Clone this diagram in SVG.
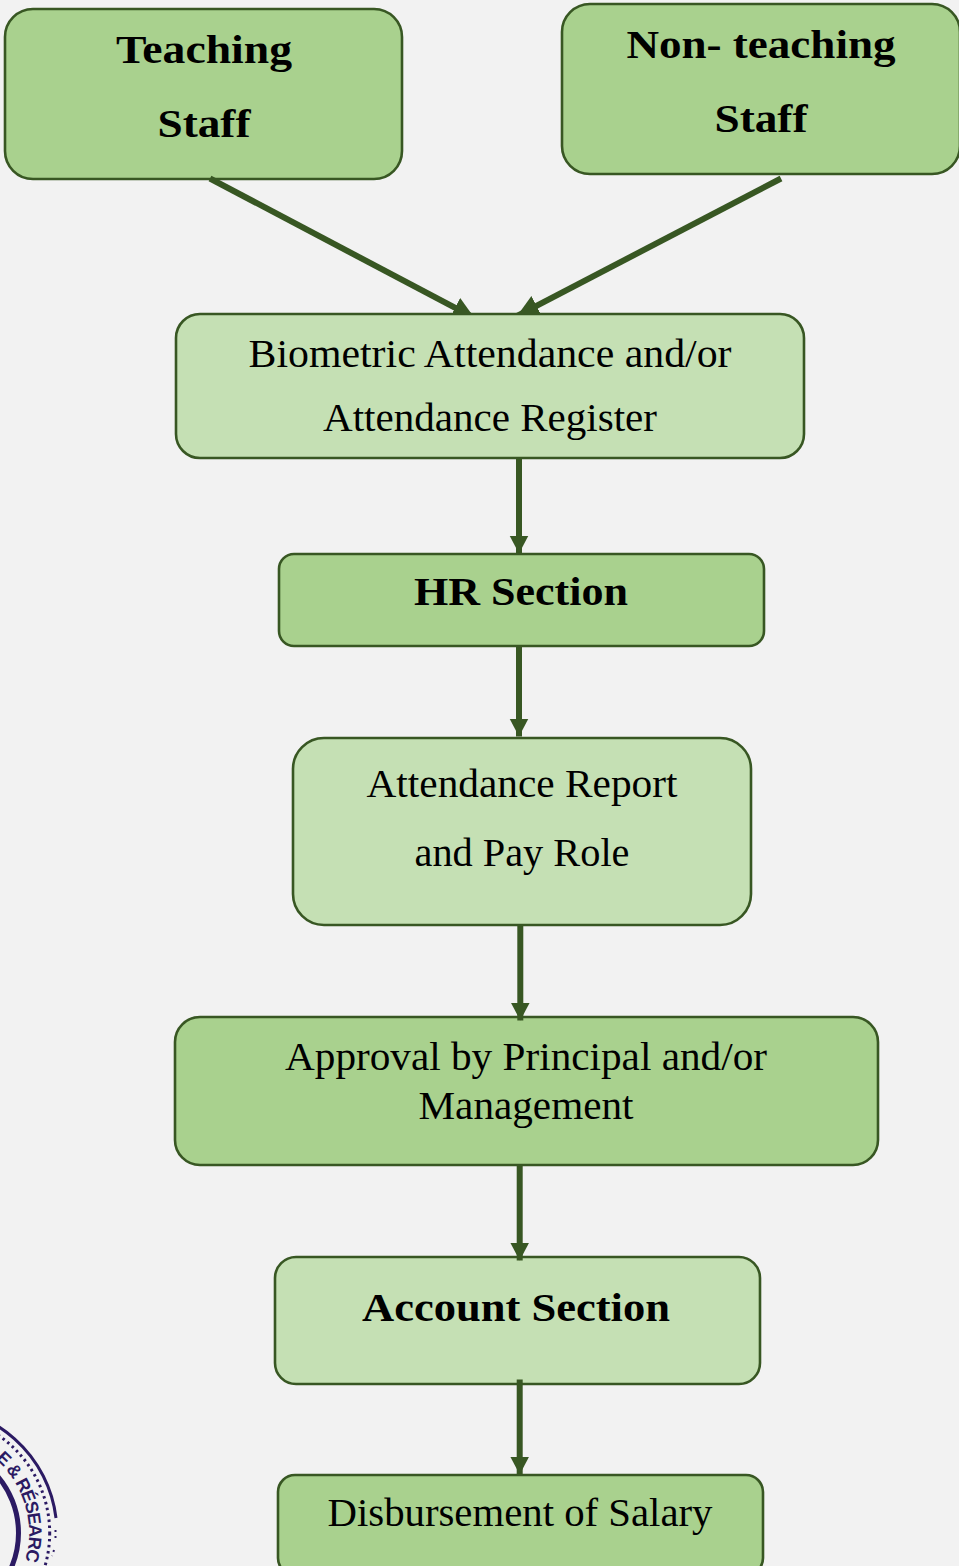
<svg xmlns="http://www.w3.org/2000/svg" width="959" height="1566" viewBox="0 0 959 1566">
<style>
.n{stroke:#385723;stroke-width:2.6}
.d{fill:#a9d18e}
.l{fill:#c5e0b4}
text{font-family:"Liberation Serif",Georgia,serif;fill:#000;text-anchor:middle}
.r{font-size:39px}
.b{font-size:39px;font-weight:bold}
.c{stroke:#385723;stroke-width:6;fill:none;marker-end:url(#a)}
.g{stroke:#385723;stroke-width:6;fill:none;marker-end:url(#h);clip-path:url(#top)}
.s{fill:none;stroke:#2b1a63}
</style>
<defs>
<marker id="a" markerUnits="userSpaceOnUse" markerWidth="20" markerHeight="20" refX="18" refY="9.500" orient="auto">
<path d="M0 0L18 9.500L0 19Z" fill="#385723"/>
</marker>
<marker id="h" markerUnits="userSpaceOnUse" markerWidth="24" markerHeight="24" refX="22" refY="11" orient="auto">
<path d="M0 0L22 11L0 22Z" fill="#385723"/>
</marker>
<clipPath id="top" clipPathUnits="userSpaceOnUse"><rect x="0" y="0" width="959" height="313"/></clipPath>
<path id="sp" d="M-69 1435A98 98 0 0 1 15.900 1582"/>
</defs>
<rect width="959" height="1566" fill="#f2f2f2"/>
<g id="stamp">
<path class="s" d="M-69 1407A126 126 0 0 1 56 1518" stroke-width="3"/>
<path class="s" d="M55.500 1530V1538M54 1550L52 1556" stroke-width="2" stroke-dasharray="2 4"/>
<circle class="s" cx="-69" cy="1533" r="118.700" stroke-width="3" stroke-dasharray="2.500 3.500"/>
<circle class="s" cx="-69" cy="1533" r="87.500" stroke-width="5"/>
<text style="font-family:'Liberation Sans',sans-serif;font-weight:bold;font-size:18px;fill:#2b1a63;text-anchor:start"><textPath href="#sp" startOffset="70" textLength="112">E &amp; RÉSEARC</textPath></text>
</g>
<g id="teaching"><rect class="n d" x="5" y="9" width="397" height="170" rx="28"/>
<text class="b" x="204" y="62.500" textLength="176" lengthAdjust="spacingAndGlyphs">Teaching</text>
<text class="b" x="204" y="137" textLength="93" lengthAdjust="spacingAndGlyphs">Staff</text></g>
<g id="nonteaching"><rect class="n d" x="562" y="4" width="398" height="170" rx="28"/>
<text class="b" x="761" y="57.500" textLength="269" lengthAdjust="spacingAndGlyphs">Non- teaching</text>
<text class="b" x="761" y="132" textLength="93" lengthAdjust="spacingAndGlyphs">Staff</text></g>
<g id="biometric"><rect class="n l" x="176" y="314" width="628" height="144" rx="24"/>
<text class="r" x="490" y="366.500" textLength="483" lengthAdjust="spacingAndGlyphs">Biometric Attendance and/or</text>
<text class="r" x="490" y="430.500" textLength="334" lengthAdjust="spacingAndGlyphs">Attendance Register</text></g>
<g id="hr"><rect class="n d" x="279" y="554" width="485" height="92" rx="15"/>
<text class="b" x="521" y="604.500" textLength="214" lengthAdjust="spacingAndGlyphs">HR Section</text></g>
<g id="report"><rect class="n l" x="293" y="738" width="458" height="187" rx="31"/>
<text class="r" x="522" y="796.500" textLength="311" lengthAdjust="spacingAndGlyphs">Attendance Report</text>
<text class="r" x="522" y="865.500" textLength="215" lengthAdjust="spacingAndGlyphs">and Pay Role</text></g>
<g id="approval"><rect class="n d" x="175" y="1017" width="703" height="148" rx="25"/>
<text class="r" x="526" y="1069.500" textLength="482" lengthAdjust="spacingAndGlyphs">Approval by Principal and/or</text>
<text class="r" x="526" y="1118.500" textLength="215" lengthAdjust="spacingAndGlyphs">Management</text></g>
<g id="account"><rect class="n l" x="275" y="1257" width="485" height="127" rx="21"/>
<text class="b" x="516" y="1320.500" textLength="308" lengthAdjust="spacingAndGlyphs">Account Section</text></g>
<g id="disbursement"><rect class="n d" x="278" y="1475" width="485" height="100" rx="17"/>
<text class="r" x="520" y="1525.500" textLength="385" lengthAdjust="spacingAndGlyphs">Disbursement of Salary</text></g>
<g id="connectors">
<path class="g" d="M210 178.500L474.500 318"/>
<path class="g" d="M781 178.500L517 316"/>
<line class="c" x1="519" y1="459" x2="519" y2="553.500"/>
<line class="c" x1="519" y1="646" x2="519" y2="736.500"/>
<line class="c" x1="520.300" y1="926" x2="520.300" y2="1020.500"/>
<line class="c" x1="519.700" y1="1166" x2="519.700" y2="1260.500"/>
<line class="c" x1="519.700" y1="1379.500" x2="519.700" y2="1474.500"/>
</g>
</svg>
